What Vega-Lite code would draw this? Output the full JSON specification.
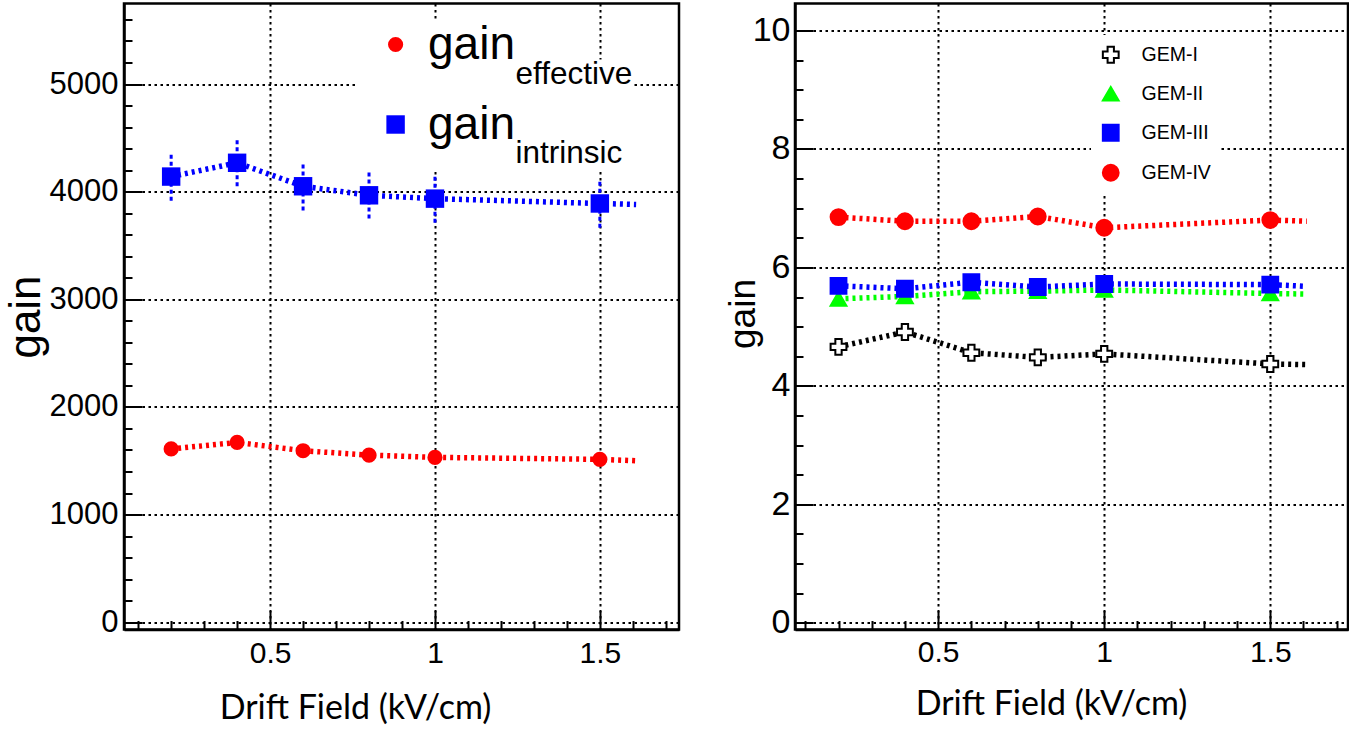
{
  "$schema": "https://vega.github.io/schema/vega-lite/v6.json",
  "background": "white",
  "padding": {"left": 2, "top": 1.5, "right": 0, "bottom": 0},
  "bounds": "flush",
  "spacing": 116,
  "resolve": {
    "scale": {"color": "independent", "shape": "independent", "size": "independent", "fill": "independent", "stroke": "independent", "opacity": "independent"},
    "legend": {"color": "independent", "shape": "independent", "size": "independent", "fill": "independent", "stroke": "independent", "opacity": "independent"}
  },
  "datasets": {
    "left": [
      {"series": "gain_effective", "sub": "effective", "x": 0.2, "y": 1610, "pt": 1},
      {"series": "gain_effective", "sub": "effective", "x": 0.4, "y": 1670, "pt": 1},
      {"series": "gain_effective", "sub": "effective", "x": 0.6, "y": 1593, "pt": 1},
      {"series": "gain_effective", "sub": "effective", "x": 0.8, "y": 1552, "pt": 1},
      {"series": "gain_effective", "sub": "effective", "x": 1.0, "y": 1531, "pt": 1},
      {"series": "gain_effective", "sub": "effective", "x": 1.5, "y": 1513, "pt": 1},
      {"series": "gain_effective", "sub": "effective", "x": 1.61, "y": 1500, "pt": 0},
      {"series": "gain_intrinsic", "sub": "intrinsic", "x": 0.2, "y": 4140, "lo": 3915, "hi": 4365, "pt": 1},
      {"series": "gain_intrinsic", "sub": "intrinsic", "x": 0.4, "y": 4268, "lo": 4050, "hi": 4485, "pt": 1},
      {"series": "gain_intrinsic", "sub": "intrinsic", "x": 0.6, "y": 4050, "lo": 3825, "hi": 4270, "pt": 1},
      {"series": "gain_intrinsic", "sub": "intrinsic", "x": 0.8, "y": 3966, "lo": 3750, "hi": 4195, "pt": 1},
      {"series": "gain_intrinsic", "sub": "intrinsic", "x": 1.0, "y": 3935, "lo": 3712, "hi": 4162, "pt": 1},
      {"series": "gain_intrinsic", "sub": "intrinsic", "x": 1.5, "y": 3890, "lo": 3665, "hi": 4105, "pt": 1},
      {"series": "gain_intrinsic", "sub": "intrinsic", "x": 1.61, "y": 3881, "pt": 0}
    ],
    "right": [
      {"series": "GEM-I", "x": 0.2, "y": 4.66, "pt": 1},
      {"series": "GEM-I", "x": 0.4, "y": 4.91, "pt": 1},
      {"series": "GEM-I", "x": 0.6, "y": 4.56, "pt": 1},
      {"series": "GEM-I", "x": 0.8, "y": 4.48, "pt": 1},
      {"series": "GEM-I", "x": 1.0, "y": 4.54, "pt": 1},
      {"series": "GEM-I", "x": 1.5, "y": 4.37, "pt": 1},
      {"series": "GEM-I", "x": 1.61, "y": 4.36, "pt": 0},
      {"series": "GEM-II", "x": 0.2, "y": 5.47, "pt": 1},
      {"series": "GEM-II", "x": 0.4, "y": 5.51, "pt": 1},
      {"series": "GEM-II", "x": 0.6, "y": 5.59, "pt": 1},
      {"series": "GEM-II", "x": 0.8, "y": 5.60, "pt": 1},
      {"series": "GEM-II", "x": 1.0, "y": 5.62, "pt": 1},
      {"series": "GEM-II", "x": 1.5, "y": 5.56, "pt": 1},
      {"series": "GEM-II", "x": 1.61, "y": 5.55, "pt": 0},
      {"series": "GEM-III", "x": 0.2, "y": 5.69, "pt": 1},
      {"series": "GEM-III", "x": 0.4, "y": 5.64, "pt": 1},
      {"series": "GEM-III", "x": 0.6, "y": 5.75, "pt": 1},
      {"series": "GEM-III", "x": 0.8, "y": 5.67, "pt": 1},
      {"series": "GEM-III", "x": 1.0, "y": 5.72, "pt": 1},
      {"series": "GEM-III", "x": 1.5, "y": 5.71, "pt": 1},
      {"series": "GEM-III", "x": 1.61, "y": 5.68, "pt": 0},
      {"series": "GEM-IV", "x": 0.2, "y": 6.85, "pt": 1},
      {"series": "GEM-IV", "x": 0.4, "y": 6.78, "pt": 1},
      {"series": "GEM-IV", "x": 0.6, "y": 6.78, "pt": 1},
      {"series": "GEM-IV", "x": 0.8, "y": 6.86, "pt": 1},
      {"series": "GEM-IV", "x": 1.0, "y": 6.67, "pt": 1},
      {"series": "GEM-IV", "x": 1.5, "y": 6.80, "pt": 1},
      {"series": "GEM-IV", "x": 1.61, "y": 6.78, "pt": 0}
    ]
  },
  "hconcat": [
    {
      "width": 555,
      "height": 626,
      "data": {"name": "left"},
      "resolve": {"axis": {"x": "independent", "y": "independent"}},
      "layer": [
        {
          "transform": [{"filter": "datum.series == 'gain_effective'"}],
          "mark": {"type": "line", "strokeWidth": 5.5, "strokeDash": [3, 4], "color": "#ff0000"},
          "encoding": {
            "x": {"field": "x", "type": "quantitative",
              "scale": {"domain": [0.057, 1.74], "nice": false, "zero": false},
              "axis": {"values": [0.5, 1, 1.5], "format": "~g", "grid": true, "tickSize": -19,
                "labelFontSize": 30, "labelPadding": 28,
                "title": "Drift Field (kV/cm)", "titleFont": "Lato", "titleFontSize": 34,
                "titleX": 231, "titleY": 79, "titleAlign": "center", "titleBaseline": "middle"}},
            "y": {"field": "y", "type": "quantitative",
              "scale": {"domain": [-68, 5748], "nice": false, "zero": false},
              "axis": {"values": [0, 1000, 2000, 3000, 4000, 5000], "format": "d", "grid": true, "tickSize": -18,
                "labelFontSize": 31, "labelPadding": 24,
                "title": "gain", "titleFontSize": 44, "titleX": -98, "titleY": 313, "titleAngle": -90,
                "titleAlign": "center", "titleBaseline": "middle"}}
          }
        },
        {
          "transform": [{"filter": "datum.series == 'gain_intrinsic'"}],
          "mark": {"type": "line", "strokeWidth": 5.5, "strokeDash": [3, 4], "color": "#0000ff"},
          "encoding": {
            "x": {"field": "x", "type": "quantitative", "axis": null},
            "y": {"field": "y", "type": "quantitative", "axis": null}
          }
        },
        {
          "transform": [{"filter": "isValid(datum.lo)"}],
          "mark": {"type": "rule", "strokeWidth": 3, "strokeDash": [4, 3], "color": "#0000ff"},
          "encoding": {
            "x": {"field": "x", "type": "quantitative",
              "axis": {"orient": "bottom", "values": [0.1, 0.2, 0.3, 0.4, 0.6, 0.7, 0.8, 0.9, 1.1, 1.2, 1.3, 1.4, 1.6, 1.7],
                "grid": false, "labels": false, "domain": false, "tickSize": -9, "title": null}},
            "y": {"field": "lo", "type": "quantitative",
              "axis": {"orient": "left", "values": [200, 400, 600, 800, 1200, 1400, 1600, 1800, 2200, 2400, 2600, 2800, 3200, 3400, 3600, 3800, 4200, 4400, 4600, 4800, 5200, 5400, 5600],
                "grid": false, "labels": false, "domain": false, "tickSize": -8, "title": null}},
            "y2": {"field": "hi"}
          }
        },
        {
          "transform": [{"filter": "datum.pt == 1"}],
          "mark": {"type": "point", "filled": true, "opacity": 1},
          "encoding": {
            "x": {"field": "x", "type": "quantitative", "axis": null},
            "y": {"field": "y", "type": "quantitative", "axis": null},
            "color": {"field": "series", "type": "nominal",
              "scale": {"domain": ["gain_effective", "gain_intrinsic"], "range": ["#ff0000", "#0000ff"]},
              "legend": {"orient": "none", "legendX": 248.6, "legendY": 18, "padding": 0, "fillColor": "white",
                "zindex": 1, "title": null, "labelExpr": "'gain'", "labelFontSize": 46,
                "rowPadding": 34, "labelOffset": 9.4, "symbolStrokeWidth": 0}},
            "shape": {"field": "series", "type": "nominal",
              "scale": {"domain": ["gain_effective", "gain_intrinsic"], "range": ["circle", "square"]}},
            "size": {"field": "series", "type": "nominal",
              "scale": {"domain": ["gain_effective", "gain_intrinsic"], "range": [230, 340]}},
            "opacity": {"field": "sub", "type": "nominal",
              "scale": {"domain": ["effective", "intrinsic"], "range": [1, 1]},
              "legend": {"orient": "none", "legendX": 231, "legendY": 56, "padding": 0, "fillColor": "white",
                "zindex": 0, "title": null, "labelFontSize": 31.5, "symbolSize": 0, "symbolOpacity": 0, "symbolStrokeWidth": 0,
                "labelOffset": 129, "rowPadding": 46}}
          }
        }
      ]
    },
    {
      "width": 553,
      "height": 626,
      "data": {"name": "right"},
      "resolve": {"axis": {"x": "independent", "y": "independent"}},
      "layer": [
        {
          "transform": [{"filter": "datum.series == 'GEM-I'"}],
          "mark": {"type": "line", "strokeWidth": 5.5, "strokeDash": [3, 4], "color": "#000000"},
          "encoding": {
            "x": {"field": "x", "type": "quantitative",
              "scale": {"domain": [0.069, 1.734], "nice": false, "zero": false},
              "axis": {"values": [0.5, 1, 1.5], "format": "~g", "grid": true, "tickSize": -19,
                "labelFontSize": 30, "labelPadding": 27,
                "title": "Drift Field (kV/cm)", "titleFont": "Lato", "titleFontSize": 34,
                "titleX": 256, "titleY": 75, "titleAlign": "center", "titleBaseline": "middle"}},
            "y": {"field": "y", "type": "quantitative",
              "scale": {"domain": [-0.113, 10.456], "nice": false, "zero": false},
              "axis": {"values": [0, 2, 4, 6, 8, 10], "format": "d", "grid": true, "tickSize": -18,
                "labelFontSize": 34, "labelPadding": 23,
                "title": "gain", "titleFontSize": 37, "titleX": -52, "titleY": 310, "titleAngle": -90,
                "titleAlign": "center", "titleBaseline": "middle"}}
          }
        },
        {
          "transform": [{"filter": "datum.series == 'GEM-II'"}],
          "mark": {"type": "line", "strokeWidth": 5.5, "strokeDash": [3, 4], "color": "#00ff00"},
          "encoding": {
            "x": {"field": "x", "type": "quantitative", "axis": null},
            "y": {"field": "y", "type": "quantitative", "axis": null}
          }
        },
        {
          "transform": [{"filter": "datum.series == 'GEM-III'"}],
          "mark": {"type": "line", "strokeWidth": 5.5, "strokeDash": [3, 4], "color": "#0000ff"},
          "encoding": {
            "x": {"field": "x", "type": "quantitative", "axis": null},
            "y": {"field": "y", "type": "quantitative", "axis": null}
          }
        },
        {
          "transform": [{"filter": "datum.series == 'GEM-IV'"}],
          "mark": {"type": "line", "strokeWidth": 5.5, "strokeDash": [3, 4], "color": "#ff0000"},
          "encoding": {
            "x": {"field": "x", "type": "quantitative", "axis": null},
            "y": {"field": "y", "type": "quantitative", "axis": null}
          }
        },
        {
          "transform": [{"filter": "datum.pt == 1"}],
          "mark": {"type": "point", "filled": true, "opacity": 1, "strokeWidth": 2},
          "encoding": {
            "x": {"field": "x", "type": "quantitative",
              "axis": {"orient": "bottom", "values": [0.1, 0.2, 0.3, 0.4, 0.6, 0.7, 0.8, 0.9, 1.1, 1.2, 1.3, 1.4, 1.6, 1.7],
                "grid": false, "labels": false, "domain": false, "tickSize": -9, "title": null}},
            "y": {"field": "y", "type": "quantitative",
              "axis": {"orient": "left", "values": [0.5, 1, 1.5, 2.5, 3, 3.5, 4.5, 5, 5.5, 6.5, 7, 7.5, 8.5, 9, 9.5],
                "grid": false, "labels": false, "domain": false, "tickSize": -8, "title": null}},
            "fill": {"field": "series", "type": "nominal",
              "scale": {"domain": ["GEM-I", "GEM-II", "GEM-III", "GEM-IV"], "range": ["#ffffff", "#00ff00", "#0000ff", "#ff0000"]},
              "legend": {"orient": "none", "legendX": 296, "legendY": 31.5, "padding": 10, "fillColor": "white",
                "title": null, "labelFontSize": 19.5, "symbolStrokeWidth": 2,
                "rowPadding": 15, "labelOffset": 21}},
            "stroke": {"field": "series", "type": "nominal",
              "scale": {"domain": ["GEM-I", "GEM-II", "GEM-III", "GEM-IV"], "range": ["#000000", "#00ff00", "#0000ff", "#ff0000"]}},
            "shape": {"field": "series", "type": "nominal",
              "scale": {"domain": ["GEM-I", "GEM-II", "GEM-III", "GEM-IV"], "range": ["cross", "triangle-up", "square", "circle"]}},
            "size": {"field": "series", "type": "nominal",
              "scale": {"domain": ["GEM-I", "GEM-II", "GEM-III", "GEM-IV"], "range": [250, 250, 280, 220]}}
          }
        }
      ]
    }
  ],
  "config": {
    "view": {"stroke": "black", "strokeWidth": 2.5},
    "axis": {"labelFont": "Liberation Sans", "labelColor": "black", "titleFont": "Liberation Sans",
      "titleColor": "black", "titleFontWeight": "normal", "domainColor": "black", "domainWidth": 2.5,
      "tickColor": "black", "tickWidth": 2, "gridColor": "black", "gridOpacity": 1, "gridDash": [2.5, 3.5], "gridWidth": 2},
    "legend": {"labelFont": "Liberation Sans", "labelColor": "black"}
  }
}
